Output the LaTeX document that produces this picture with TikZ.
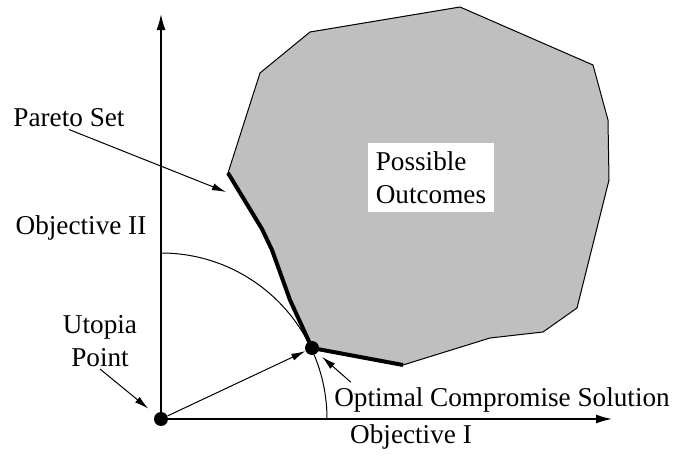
\documentclass[tikz,border=0pt]{standalone}
\usepackage{fontspec}
\setmainfont{Liberation Serif}
\usetikzlibrary{arrows.meta,calc}
\tikzset{
  lbl/.style={font=\fontsize{13.6}{16.5}\selectfont, inner sep=1pt},
  axis/.style={line width=0.75pt, -{Latex[length=8pt,width=4.5pt]}},
  ptr/.style={line width=0.5pt, -{Latex[length=7pt,width=3.6pt]}},
  dot/.style={circle, fill=black, inner sep=0pt, minimum size=7pt}}

\begin{document}
\begin{tikzpicture}[x=0.5pt,y=0.5pt]
  \useasboundingbox (0,0) rectangle (676,462);
  % region of possible outcomes
  \draw[line width=0.5pt, fill=black!25] (228,289) -- (260,389) -- (310,430) -- (460,455) -- (593,397) -- (608,342)
    -- (609,282) -- (577,154) -- (543,130) -- (490,124) -- (403,97) -- (312,114) -- (290,162) -- (272,212) -- (262,233) -- cycle;
  % pareto set
  \draw[line width=2pt, line join=round] (228,289) -- (262,233) -- (272,212) -- (290,162) -- (312,114) -- (403,97);
  % axes
  \coordinate (O) at (161,43);
  \coordinate (ytop) at (161,448);
  \coordinate (xend) at (612,43);
  \draw[axis] (O) -- (ytop);
  \draw[axis] (O) -- (xend);
  % distance arc
  \draw[line width=0.5pt] (161,209) arc (90:0:166);
  % points
  \node[dot] (ut) at (O) {};
  \node[dot] (cp) at (312,114) {};
  \draw[ptr] (ut) -- (cp);
  % labels
  \node[lbl] (pareto) at (69,344) {Pareto Set};
  \node[lbl] (obj2) at (81,234) {Objective II};
  \node[lbl, align=center] (utopia) at (100,121) {Utopia\\Point};
  \node[lbl, fill=white, align=left, inner sep=4pt] (outcomes) at (431,284.5) {Possible\\Outcomes};
  \node[lbl] (compromise) at (502,62) {Optimal Compromise Solution};
  \node[lbl] (obj1) at (411,25) {Objective I};
  % pointers
  \coordinate (paretotip) at (226,270);
  \draw[ptr] (pareto.south) -- (paretotip);
  \draw[ptr, shorten >=4.5pt] (utopia.south) -- (ut);
  \draw[ptr, shorten >=3pt] ($(compromise.north west)+(19,3)$) -- (cp);
\end{tikzpicture}
\end{document}
